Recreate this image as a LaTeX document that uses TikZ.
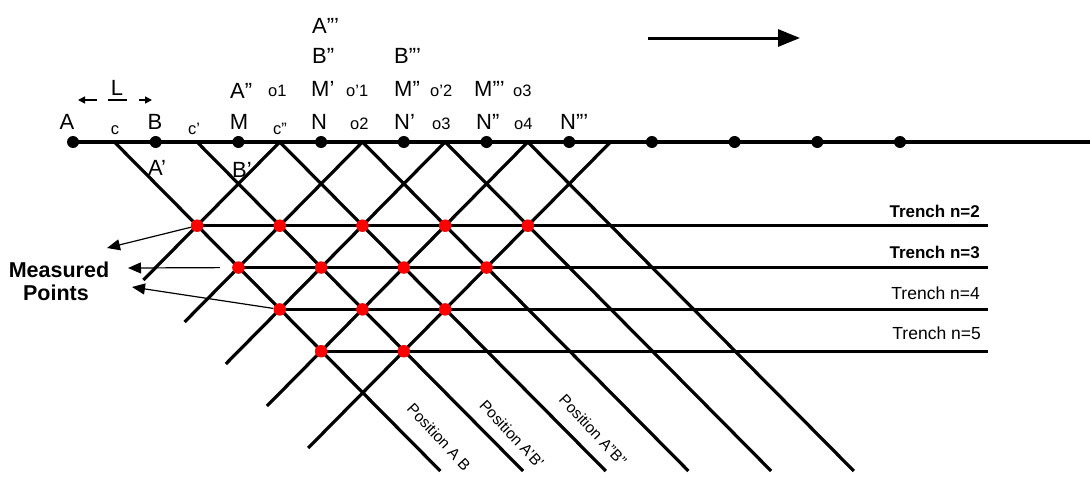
\documentclass[tikz,border=0pt]{standalone}
\usepackage{fontspec}
\setmainfont{Liberation Sans}
\usetikzlibrary{arrows.meta,calc}
\begin{document}
\begin{tikzpicture}[x=1pt,y=-1pt,
  dot/.style={circle,fill=black,inner sep=0pt,minimum size=12pt},
  rdot/.style={circle,fill=red,inner sep=0pt,minimum size=12.5pt},
  bline/.style={line width=3.2pt,black},
  big/.style={font=\fontsize{22}{26}\selectfont,inner sep=0pt},
  small/.style={font=\fontsize{16.5}{18}\selectfont,inner sep=0pt},
  trench/.style={font=\fontsize{17.5}{20}\selectfont,inner sep=0pt,anchor=base east},
  trenchb/.style={font=\bfseries\fontsize{17}{20}\selectfont,inner sep=0pt,anchor=base east},
  poslab/.style={font=\fontsize{15.5}{17}\selectfont,inner sep=0pt,rotate=-47},
  meas/.style={font=\bfseries\fontsize{21.5}{24}\selectfont,inner sep=0pt,anchor=base},
  marrow/.style={line width=1.2pt,-{Triangle[length=13pt,width=11pt]}},
  larrow/.style={line width=1.5pt,-{Triangle[length=7pt,width=7pt]}},
]
\useasboundingbox (0,0) rectangle (1090,479);

% ground crossing points and line ends
\foreach \j in {0,...,6} \coordinate (c\j) at ({114.35+82.7*\j},142);
\foreach \j in {0,...,5} \coordinate (r\j) at ($(c\j)+(326,329)$);
\foreach \j/\dy in {2/138,3/180,4/222,5/264,6/306} \coordinate (l\j) at ($(c\j)+(-\dy/1.012,\dy)$);
\coordinate (gend) at (1090,142);
\coordinate (tx) at (988,0);

% diagonals
\foreach \j in {0,...,5} \draw[bline] (c\j) -- (r\j);
\foreach \j in {2,...,6} \draw[bline] (c\j) -- (l\j);

% red measured points (row n, index a)
\foreach \n in {2,...,5}{
  \pgfmathtruncatemacro{\amax}{6-\n}
  \foreach \a in {0,...,\amax}{
    \coordinate (q\n\a) at ($(c\a)+({41.35*\n},{41.85*\n})$);
  }
}
\foreach \n in {2,...,5}{
  \draw[bline,line width=3.4pt] (q\n0) -- (q\n0 -| tx);
}
\foreach \n in {2,...,5}{
  \pgfmathtruncatemacro{\amax}{6-\n}
  \foreach \a in {0,...,\amax}{
    \node[rdot] (p\n\a) at (q\n\a) {};
  }
}

% ground line and dots
\foreach \i in {0,...,10} \coordinate (g\i) at ({73+82.7*\i},142);
\draw[bline,line width=3.6pt] (g0) -- (gend);
\foreach \i in {0,...,10} \node[dot] (d\i) at (g\i) {};

% big labels
\node[big,anchor=base] (lA) at (67,129) {A};
\node[big,anchor=base] (lB) at (155,129) {B};
\node[big,anchor=base] (lM) at (239,129) {M};
\node[big,anchor=base west] (lN) at (311,129) {N};
\node[big,anchor=base west] (lN1) at (394,129) {N'};
\node[big,anchor=base west] (lN2) at (476,129) {N''};
\node[big,anchor=base west] (lN3) at (560,129) {N'''};
\node[big,anchor=base west] (lA2) at (230,98) {A''};
\node[big,anchor=base west] (lM1) at (311,96) {M'};
\node[big,anchor=base west] (lM2) at (394,96) {M''};
\node[big,anchor=base west] (lM3) at (474,96) {M'''};
\node[big,anchor=base west] (lB2) at (312,63) {B''};
\node[big,anchor=base west] (lB3) at (394,63) {B'''};
\node[big,anchor=base west] (lA3) at (312,33) {A'''};
\node[big,anchor=base west] (lA1) at (148,175) {A'};
\node[big,anchor=base west] (lB1) at (232,177) {B'};
\node[big,anchor=base] (lL) at (117,95) {L};

% small labels
\node[small,anchor=base] (sc0) at (115,134) {c};
\node[small,anchor=base west] (sc1) at (188,134) {c'};
\node[small,anchor=base west] (sc2) at (273,134) {c''};
\node[small,anchor=base west] (so1) at (268,96) {o1};
\node[small,anchor=base west] (so11) at (346,96) {o'1};
\node[small,anchor=base west] (so12) at (430,96) {o'2};
\node[small,anchor=base west] (so13) at (513,96) {o3};
\node[small,anchor=base west] (so2) at (350,129) {o2};
\node[small,anchor=base west] (so3) at (432,129) {o3};
\node[small,anchor=base west] (so4) at (514,129) {o4};

% L dimension
\coordinate (la1) at (97,100); \coordinate (la2) at (78,100);
\coordinate (lu1) at (108,100); \coordinate (lu2) at (127,100);
\coordinate (lb1) at (139,100); \coordinate (lb2) at (152,100);
\draw[larrow] (la1) -- (la2);
\draw[line width=1.5pt] (lu1) -- (lu2);
\draw[larrow] (lb1) -- (lb2);

% top direction arrow
\coordinate (ta) at (648,38); \coordinate (tb) at (800,38);
\draw[line width=3pt,-{Triangle[length=22pt,width=17pt]}] (ta) -- (tb);

% trench labels
\node[trenchb] (t2) at (980,217) {Trench n=2};
\node[trenchb] (t3) at (980,258) {Trench n=3};
\node[trench] (t4) at (980,299) {Trench n=4};
\node[trench] (t5) at (981,339) {Trench n=5};

% measured points
\node[meas] (m1) at (59,277) {Measured};
\node[meas] (m2) at (56,300) {Points};
\coordinate (k1) at (107,248); \coordinate (k2) at (128,268); \coordinate (k3) at (132,287);
\draw[marrow] (p20) -- (k1);
\draw[marrow,shorten <=12pt] (p30) -- (k2);
\draw[marrow] (p40) -- (k3);

% position labels
\node[poslab] (pos1) at (439,437) {Position A B};
\node[poslab] (pos2) at (512,434) {Position A'B'};
\node[poslab] (pos3) at (593,430) {Position A''B''};
\end{tikzpicture}
\end{document}
